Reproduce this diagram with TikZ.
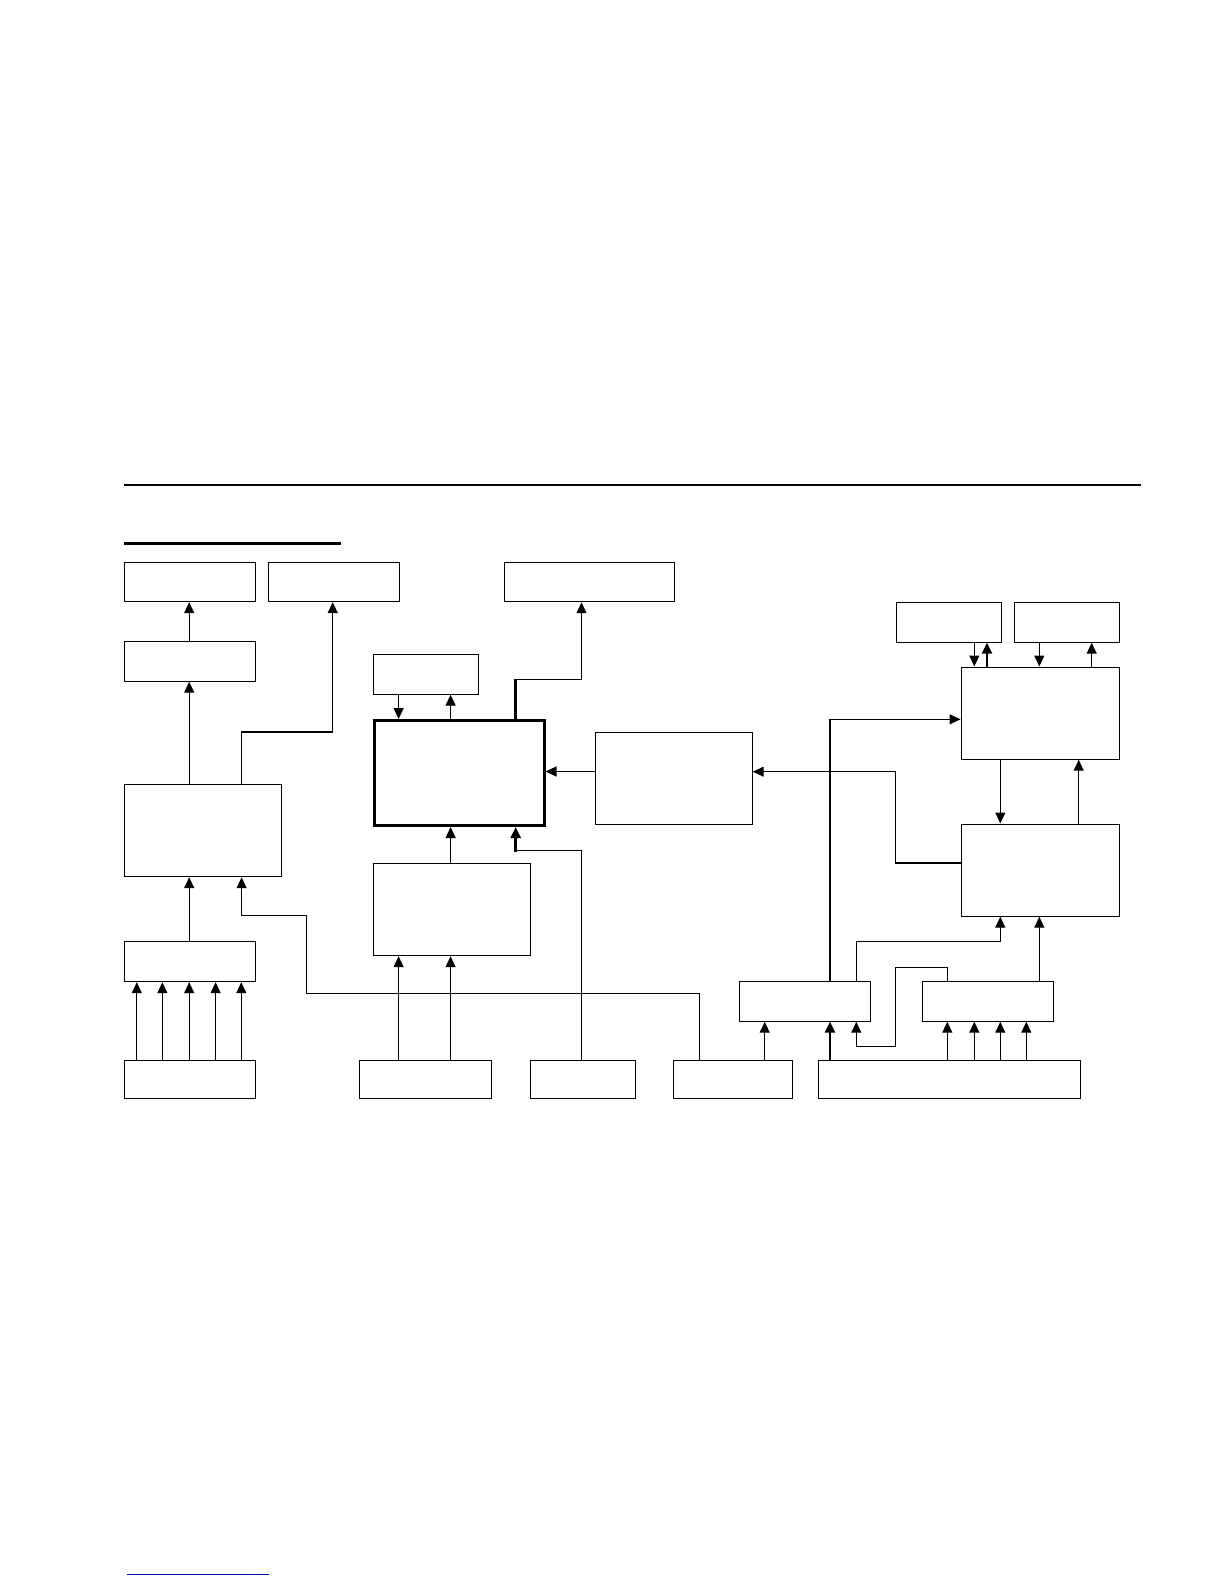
\documentclass[tikz,border=0pt]{standalone}
\usetikzlibrary{arrows.meta}
\definecolor{navyline}{RGB}{10,10,160}
\begin{document}
\begin{tikzpicture}[x=1pt,y=-1pt,
  box/.style={draw,line width=1.2pt,inner sep=0pt,anchor=north west,rectangle},
  thickbox/.style={box,line width=3pt},
  conn/.style={line width=1.2pt},
  arr/.style={conn,-{Triangle[width=10pt,length=11pt]}},
  heavy/.style={line width=2.6pt}]
\useasboundingbox[fill=white] (0,0) rectangle (1224,1584);
% rules
\draw[line width=1.2pt] (124,485) -- (1141,485);
\draw[line width=2.6pt] (124,543.5) -- (341,543.5);
\draw[line width=1.6pt,navyline] (127,1574.5) -- (269,1574.5);
% boxes
\node[box,minimum width=131pt,minimum height=39pt] (A1) at (123.5,562) {};
\node[box,minimum width=131pt,minimum height=39pt] (A2) at (267.5,562) {};
\node[box,minimum width=170pt,minimum height=39pt] (A3) at (503.5,562) {};
\node[box,minimum width=131pt,minimum height=40pt] (B1) at (123.5,640.5) {};
\node[box,minimum width=105pt,minimum height=40pt] (D) at (372.5,653.5) {};
\node[thickbox,minimum width=170pt,minimum height=105pt] (Main) at (372.5,719) {};
\node[box,minimum width=157pt,minimum height=92pt] (E) at (594.5,732) {};
\node[box,minimum width=105pt,minimum height=40pt] (R1) at (895.5,601.5) {};
\node[box,minimum width=105pt,minimum height=40pt] (R2) at (1013.5,601.5) {};
\node[box,minimum width=158pt,minimum height=92pt] (H1) at (960.5,666.5) {};
\node[box,minimum width=158pt,minimum height=92pt] (H2) at (960.5,823.5) {};
\node[box,minimum width=157pt,minimum height=92pt] (C1) at (123.5,784) {};
\node[box,minimum width=157pt,minimum height=92pt] (F) at (372.5,863) {};
\node[box,minimum width=131pt,minimum height=40pt] (B2) at (123.5,941) {};
\node[box,minimum width=131pt,minimum height=40pt] (G1) at (738.5,980.5) {};
\node[box,minimum width=131pt,minimum height=40pt] (G2) at (921.5,980.5) {};
\node[box,minimum width=131pt,minimum height=38.5pt] (K) at (123.5,1059.5) {};
\node[box,minimum width=132pt,minimum height=38.5pt] (L) at (358.5,1059.5) {};
\node[box,minimum width=105pt,minimum height=38.5pt] (M) at (529.5,1059.5) {};
\node[box,minimum width=119pt,minimum height=38.5pt] (I) at (672.5,1059.5) {};
\node[box,minimum width=262pt,minimum height=38.5pt] (J) at (817.5,1059.5) {};
% left column
\draw[arr] (B1.north -| 189.2,0) -- (A1.south -| 189.2,0);
\draw[arr] (C1.north -| 189.2,0) -- (B1.south -| 189.2,0);
\draw[arr] (C1.north -| 241.3,0) -- (241.3,732) -- (332.7,732) -- (A2.south -| 332.7,0);
\draw[arr] (B2.north -| 189.2,0) -- (C1.south -| 189.2,0);
\foreach \xx in {136.8,162.4,189.2,215.6,241.3}
  \draw[arr] (K.north -| \xx,0) -- (B2.south -| \xx,0);
\draw[arr] (I.north -| 699.3,0) -- (699.3,993.3) -- (306.7,993.3) -- (306.7,915.3) -- (241.6,915.3) -- (C1.south -| 241.6,0);
% centre
\draw[arr] (D.south -| 398.6,0) -- (Main.north -| 398.6,0);
\draw[arr] (Main.north -| 450.6,0) -- (D.south -| 450.6,0);
\draw[heavy] (Main.north -| 515.7,0) -- (515.7,679.3);
\draw[arr] (514.4,679.3) -- (581.5,679.3) -- (A3.south -| 581.5,0);
\draw[arr] (E.west |- 0,771.5) -- (Main.east |- 0,771.5);
\draw[arr] (H2.west |- 0,863) -- (895.3,863) -- (895.3,771.7) -- (E.east |- 0,771.7);
\draw[arr] (F.north -| 450.6,0) -- (Main.south -| 450.6,0);
\draw[arr] (L.north -| 398.6,0) -- (F.south -| 398.6,0);
\draw[arr] (L.north -| 450.6,0) -- (F.south -| 450.6,0);
\draw[conn] (M.north -| 581.5,0) -- (581.5,850.3) -- (515.7,850.3);
\draw[heavy,-{Triangle[width=10pt,length=11pt]}] (515.7,851.5) -- (Main.south -| 515.7,0);
% right side
\draw[arr] (R1.south -| 974.3,0) -- (H1.north -| 974.3,0);
\draw[heavy,-{Triangle[width=10pt,length=11pt]}] (H1.north -| 987,0) -- (R1.south -| 987,0);
\draw[arr] (R2.south -| 1039.3,0) -- (H1.north -| 1039.3,0);
\draw[arr] (H1.north -| 1091.7,0) -- (R2.south -| 1091.7,0);
\draw[arr] (H1.south -| 1000.3,0) -- (H2.north -| 1000.3,0);
\draw[arr] (H2.north -| 1078.7,0) -- (H1.south -| 1078.7,0);
\draw[heavy] (G1.north -| 830,0) -- (830,719.3);
\draw[arr] (828.7,719.3) -- (H1.west |- 0,719.3);
\draw[heavy,-{Triangle[width=10pt,length=11pt]}] (J.north -| 830,0) -- (G1.south -| 830,0);
\draw[arr] (I.north -| 764.7,0) -- (G1.south -| 764.7,0);
\draw[arr] (G2.north -| 947.3,0) -- (947.3,967.3) -- (895.3,967.3) -- (895.3,1046.3) -- (856.3,1046.3) -- (G1.south -| 856.3,0);
\draw[arr] (G1.north -| 856.3,0) -- (856.3,941.3) -- (1000.3,941.3) -- (H2.south -| 1000.3,0);
\draw[arr] (G2.north -| 1039.3,0) -- (H2.south -| 1039.3,0);
\foreach \xx in {947.3,974.3,1000.3,1026.3}
  \draw[arr] (J.north -| \xx,0) -- (G2.south -| \xx,0);
\end{tikzpicture}
\end{document}
